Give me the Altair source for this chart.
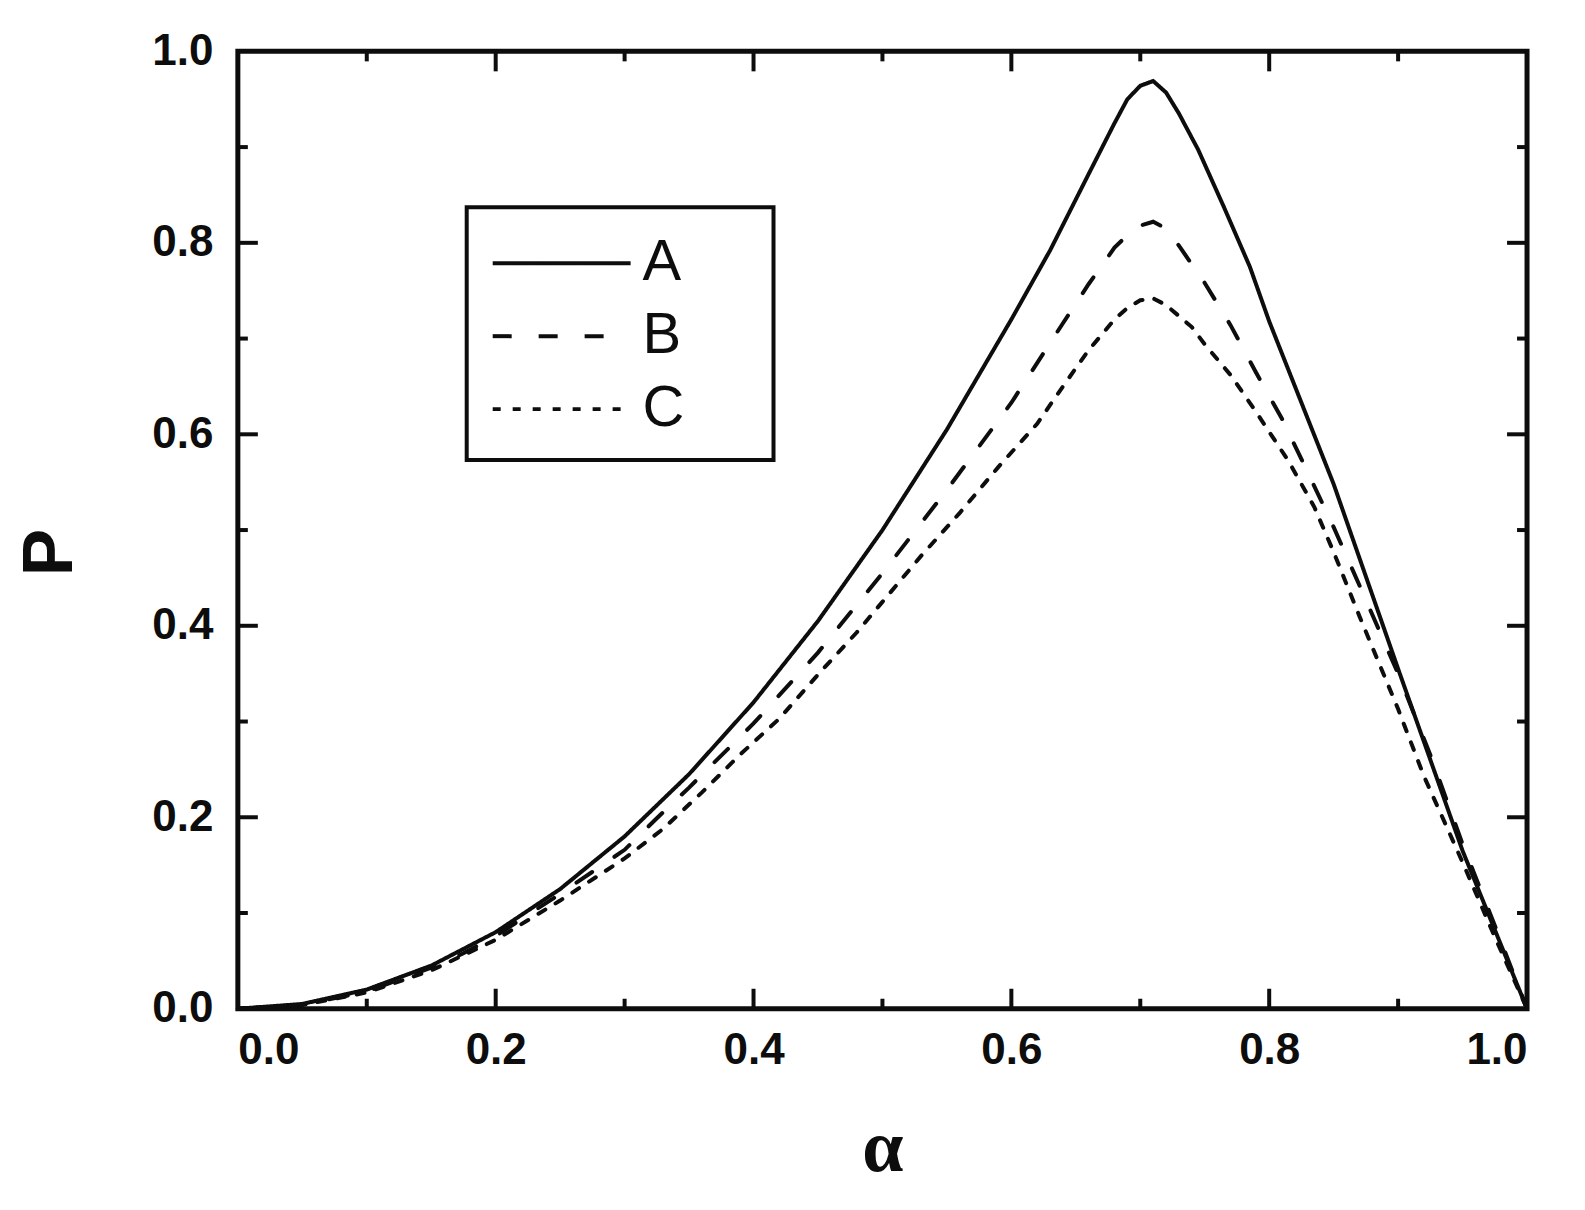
import altair as alt
import pandas as pd

# ---- data ----
alpha_A = [0.00, 0.05, 0.10, 0.15, 0.20, 0.25, 0.30, 0.35, 0.40, 0.45, 0.50, 0.55, 0.60,
           0.63, 0.66, 0.68, 0.69, 0.70, 0.71, 0.72, 0.73, 0.745, 0.765, 0.785, 0.80,
           0.85, 0.90, 0.95, 1.00]
P_A = [0.000, 0.005, 0.020, 0.045, 0.080, 0.125, 0.180, 0.245, 0.320, 0.405, 0.500, 0.605, 0.720,
       0.792, 0.872, 0.925, 0.950, 0.964, 0.969, 0.957, 0.935, 0.897, 0.837, 0.775, 0.718,
       0.548, 0.355, 0.165, 0.000]

alpha_B = [0.00, 0.05, 0.10, 0.15, 0.175, 0.20, 0.25, 0.30, 0.325, 0.35, 0.40, 0.45, 0.50,
           0.55, 0.60, 0.64, 0.66, 0.68, 0.69, 0.70, 0.71, 0.72, 0.73, 0.75, 0.77, 0.79,
           0.81, 0.83, 0.85, 0.875, 0.90, 0.925, 0.95, 0.975, 1.00]
P_B = [0.000, 0.004, 0.018, 0.043, 0.058, 0.076, 0.120, 0.166, 0.199, 0.231, 0.298, 0.372, 0.455,
       0.542, 0.633, 0.716, 0.757, 0.795, 0.808, 0.818, 0.822, 0.815, 0.797, 0.758, 0.714, 0.664,
       0.616, 0.560, 0.503, 0.427, 0.350, 0.265, 0.172, 0.087, 0.000]

alpha_C = [0.00, 0.05, 0.10, 0.15, 0.20, 0.25, 0.30, 0.33, 0.36, 0.39, 0.42, 0.45, 0.48,
           0.50, 0.53, 0.56, 0.59, 0.62, 0.64, 0.66, 0.68, 0.69, 0.70, 0.71, 0.72, 0.74,
           0.75, 0.77, 0.79, 0.815, 0.835, 0.85, 0.87, 0.90, 0.92, 0.95, 0.975, 1.00]
P_C = [0.000, 0.004, 0.017, 0.040, 0.072, 0.113, 0.157, 0.188, 0.226, 0.266, 0.303, 0.349, 0.393,
       0.425, 0.473, 0.518, 0.566, 0.611, 0.650, 0.688, 0.720, 0.732, 0.740, 0.742, 0.735, 0.712,
       0.694, 0.662, 0.623, 0.572, 0.524, 0.477, 0.410, 0.313, 0.243, 0.153, 0.075, 0.000]

series_names = ["A", "B", "C"]
x_ticks = [0.0, 0.2, 0.4, 0.6, 0.8, 1.0]
y_ticks = [0.0, 0.2, 0.4, 0.6, 0.8, 1.0]
major_ticks = [0.2, 0.4, 0.6, 0.8]
minor_ticks = [0.1, 0.3, 0.5, 0.7, 0.9]

rows = []
for name, xs, ys in [("A", alpha_A, P_A), ("B", alpha_B, P_B), ("C", alpha_C, P_C)]:
    for a, p in zip(xs, ys):
        rows.append({"alpha": a, "P": p, "series": name})
df = pd.DataFrame(rows)

W, H = 1290, 958
INK = "#0d0d0d"
SANS = "Liberation Sans"

x_scale = alt.Scale(domain=[0, 1], nice=False, zero=False)
y_scale = alt.Scale(domain=[0, 1], nice=False, zero=False)

lines = alt.Chart(df).mark_line(strokeWidth=4, color=INK, strokeCap="round").encode(
    x=alt.X("alpha:Q", scale=x_scale,
            axis=alt.Axis(title="α", values=x_ticks, format=".1f", ticks=False, tickSize=0,
                          domain=False, grid=False, labelFont=SANS, labelFontSize=44,
                          labelFontWeight="bold", labelColor=INK, labelPadding=20,
                          titleFont="Liberation Serif", titleFontSize=74, titleFontWeight="bold",
                          titleColor=INK, titleX=W / 2, titleY=162, titleBaseline="alphabetic",
                          titleAlign="center")),
    y=alt.Y("P:Q", scale=y_scale,
            axis=alt.Axis(title="P", values=y_ticks, format=".1f", ticks=False, tickSize=0,
                          domain=False, grid=False, labelFont=SANS, labelFontSize=44,
                          labelFontWeight="bold", labelColor=INK, labelPadding=25,
                          titleFont=SANS, titleFontSize=71, titleFontWeight="bold",
                          titleColor=INK, titleX=-166, titleY=501, titleAngle=270,
                          titleBaseline="alphabetic", titleAlign="center")),
    strokeDash=alt.StrokeDash("series:N",
                              scale=alt.Scale(domain=series_names,
                                              range=[[1, 0], [19, 27], [8, 12]]),
                              legend=alt.Legend(orient="none", legendX=295, legendY=183,
                                                title=None, padding=0,
                                                symbolType="M-3,0H3",
                                                symbolSize=46 * 46, symbolStrokeWidth=4,
                                                symbolStrokeColor=INK, labelFont=SANS,
                                                labelFontSize=58, labelColor=INK,
                                                labelOffset=52, rowPadding=15)),
    order="alpha:Q",
)

legend_box = alt.Chart(alt.Data(values=[{"k": 1}])).mark_rect(
    filled=False, stroke=INK, strokeWidth=4
).encode(x=alt.value(229), x2=alt.value(536), y=alt.value(156), y2=alt.value(409))


def tick_layer(values, length, side):
    d = pd.DataFrame({"v": values})
    base = alt.Chart(d).mark_rule(color=INK, strokeWidth=4)
    if side == "bottom":
        return base.encode(x=alt.X("v:Q", scale=x_scale, axis=None),
                           y=alt.value(H), y2=alt.value(H - length))
    if side == "top":
        return base.encode(x=alt.X("v:Q", scale=x_scale, axis=None),
                           y=alt.value(0), y2=alt.value(length))
    if side == "left":
        return base.encode(y=alt.Y("v:Q", scale=y_scale, axis=None),
                           x=alt.value(0), x2=alt.value(length))
    return base.encode(y=alt.Y("v:Q", scale=y_scale, axis=None),
                       x=alt.value(W), x2=alt.value(W - length))


tick_layers = []
for side in ["bottom", "top", "left", "right"]:
    tick_layers.append(tick_layer(major_ticks, 20, side))
    tick_layers.append(tick_layer(minor_ticks, 10, side))

chart = alt.layer(lines, legend_box, *tick_layers).resolve_axis(
    x="independent", y="independent"
).properties(
    width=W, height=H,
    background="white",
    autosize=alt.AutoSizeParams(type="none"),
    padding={"left": 230, "top": 43, "right": 50, "bottom": 190},
).configure_view(
    stroke=INK, strokeWidth=5
)

chart.save("out.html", embed_options={"renderer": "svg", "actions": False})
